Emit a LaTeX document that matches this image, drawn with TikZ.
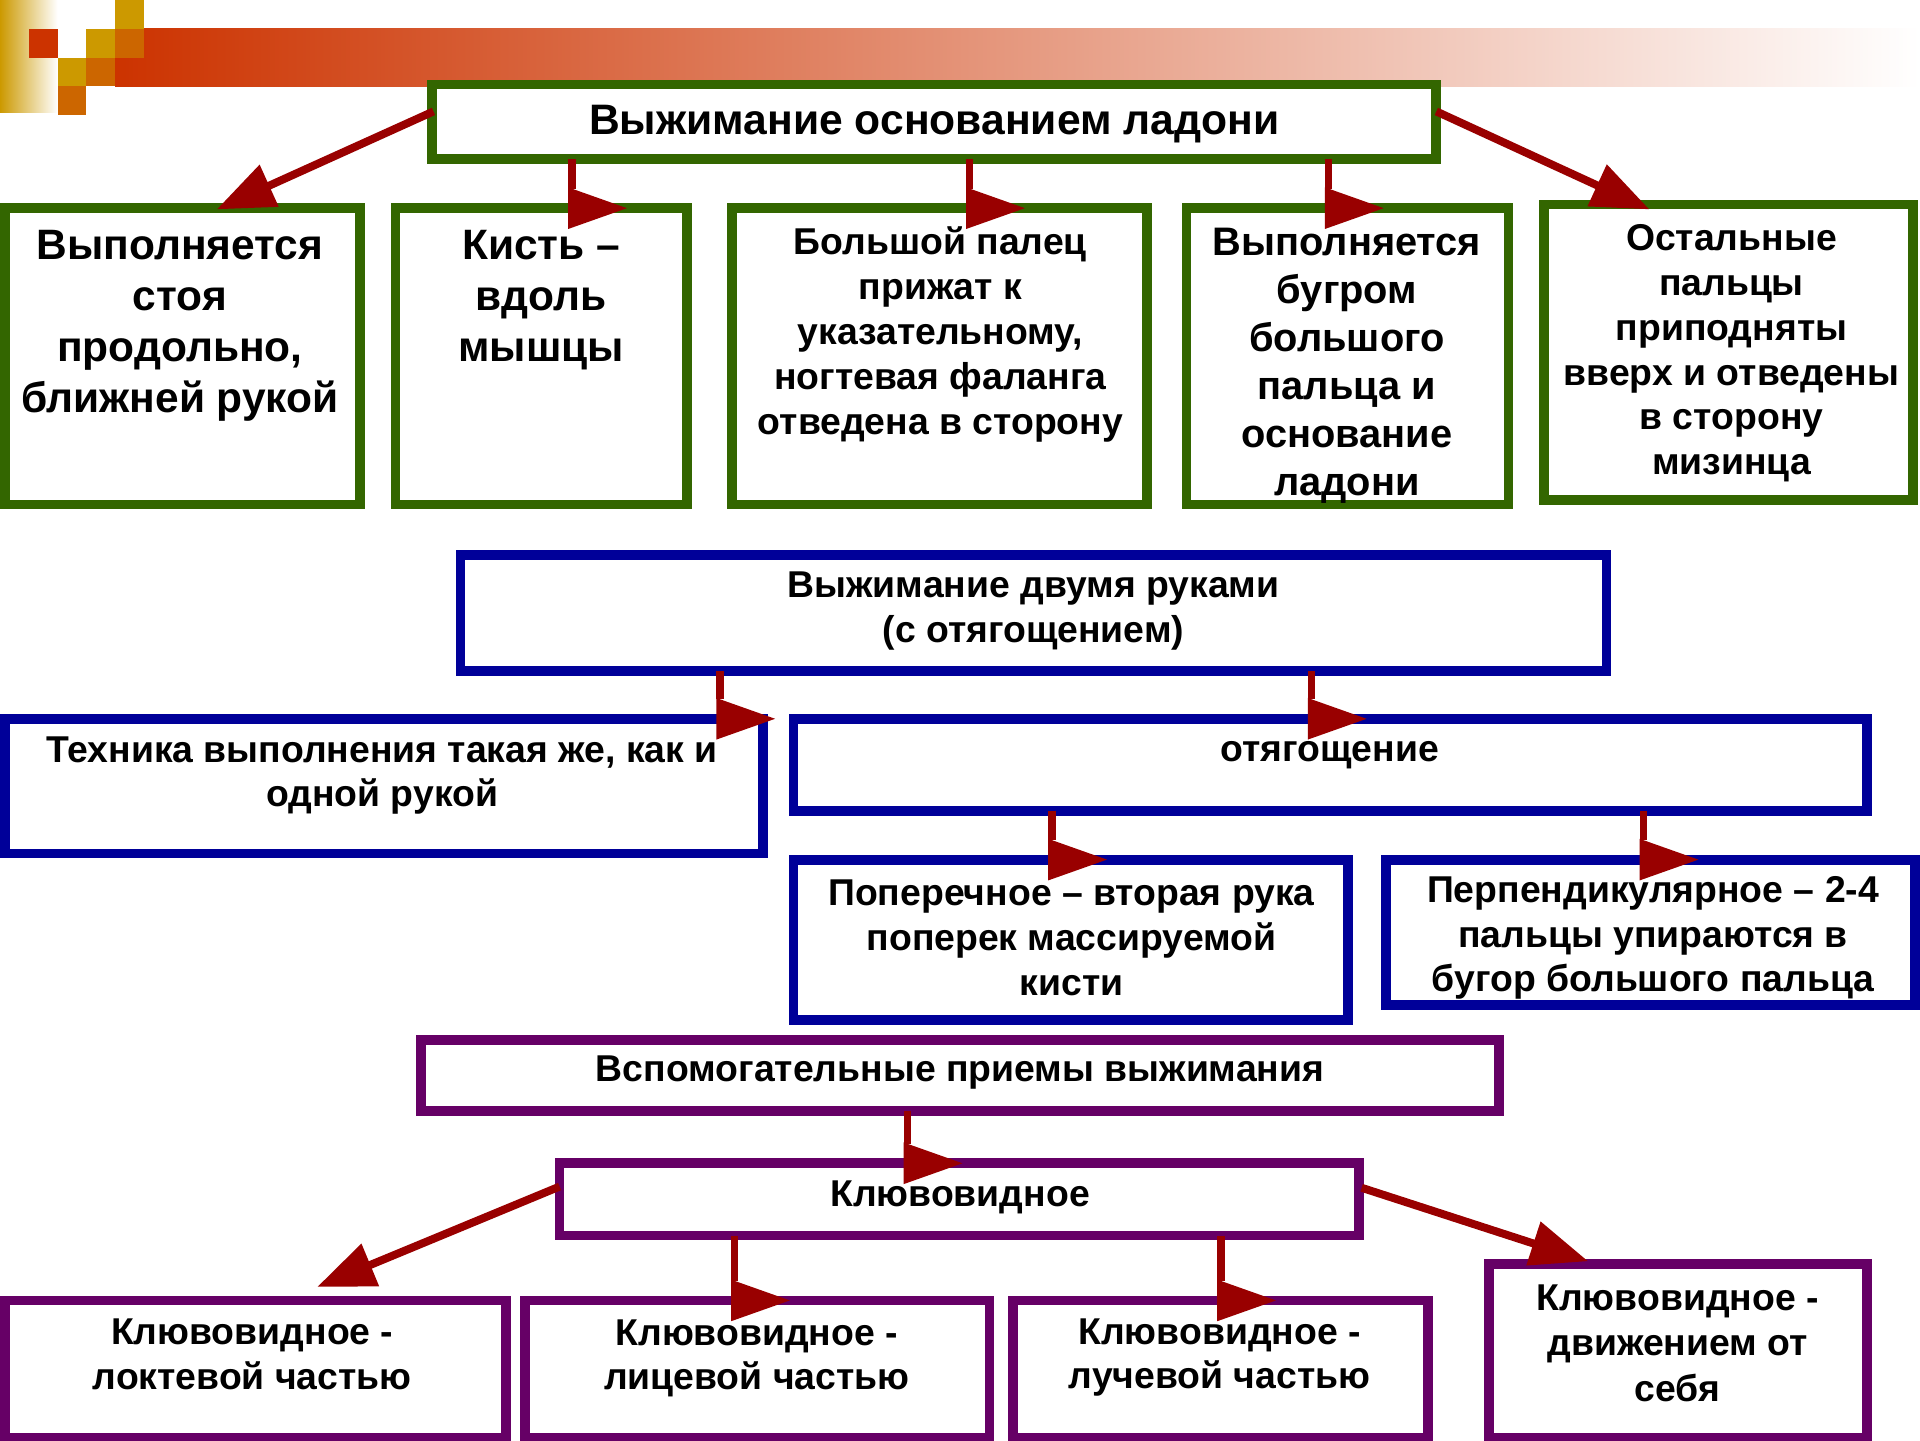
\documentclass[tikz,border=0pt]{standalone}
\usepackage{fontspec}
\setmainfont{Liberation Sans}
\usetikzlibrary{arrows.meta,calc}
\definecolor{grn}{HTML}{336600}
\definecolor{blu}{HTML}{000099}
\definecolor{pur}{HTML}{660066}
\definecolor{arrred}{HTML}{990000}
\definecolor{dred}{HTML}{CC3300}
\definecolor{gold}{HTML}{CC9900}
\definecolor{org}{HTML}{CC6600}
\newcommand\mkbox[6]{\node[#1, anchor=north west, minimum width={#4-#2-8}, minimum height={#5-#3-8}] (#6) at ({#2+4},{#3+4}) {};}
\newcommand\fs[2]{\fontsize{#1}{#2}\selectfont\bfseries}
\newcommand\varr[4]{%
  \draw[stem] (#3,0 |- #1.south) -- ($(#3,0 |- #2.north)+(0,-16)$);
  \fill[arrrred] ($(#3,0 |- #2.north)+(-3,-17)$) -- ++(0,34) -- ++(48,-17) -- cycle;}
\tikzset{
  boxbase/.style={rectangle, draw, line width=8pt, fill=white, inner sep=0pt, outer sep=0pt},
  gbox/.style={boxbase, draw=grn},
  bluebox/.style={boxbase, draw=blu},
  pbox/.style={boxbase, draw=pur},
  lbl/.style={align=center, inner sep=0pt},
  diag/.style={draw=arrred, line width=6.5pt, -{Triangle[length=47pt,width=36pt]}},
  stem/.style={draw=arrred, line width=6pt},
  arrrred/.style={fill=arrred},
}
\begin{document}
\begin{tikzpicture}[x=1pt,y=-1pt]
\useasboundingbox (0,0) rectangle (1568,1176);
% decoration
\shade[left color=dred, right color=white] (94,23.5) rectangle (1568,70.5);
\shade[left color=gold, right color=white] (0,0) rectangle (47,91.5);
\fill[dred] (23.5,23.5) rectangle (47,47);
\fill[gold] (94,0) rectangle (117.5,23.5);
\fill[gold] (70.5,23.5) rectangle (94,47);
\fill[org] (94,23.5) rectangle (117.5,47);
\fill[gold] (47,47) rectangle (70.5,70.5);
\fill[org] (70.5,47) rectangle (94,70.5);
\fill[org] (47,70.5) rectangle (70.5,94);
% boxes
\mkbox{gbox}{349}{65}{1177}{134}{top}
\mkbox{gbox}{0}{166}{298}{416}{g1}
\mkbox{gbox}{319}{166}{565}{416}{g2}
\mkbox{gbox}{594}{166}{941}{416}{g3}
\mkbox{gbox}{965}{166}{1236}{416}{g4}
\mkbox{gbox}{1257}{163}{1566}{412}{g5}
\mkbox{bluebox}{372}{449}{1316}{552}{b0}
\mkbox{bluebox}{0}{583}{627}{701}{b1}
\mkbox{bluebox}{644}{583}{1529}{666}{b2}
\mkbox{bluebox}{644}{698}{1105}{837}{b3}
\mkbox{bluebox}{1128}{698}{1568}{825}{b4}
\mkbox{pbox}{340}{845}{1228}{911}{p0}
\mkbox{pbox}{453}{946}{1114}{1013}{p1}
\mkbox{pbox}{0}{1058}{417}{1178}{l1}
\mkbox{pbox}{425}{1058}{812}{1178}{l2}
\mkbox{pbox}{823}{1058}{1170}{1178}{l3}
\mkbox{pbox}{1212}{1028}{1529}{1178}{l4}
% texts
\node[lbl, font=\fs{34.8}{37}] (t0) at (763,101) {Выжимание основанием ладони};
\node[lbl, font=\fs{34.7}{41.5}] (tg1) at (147,266) {Выполняется\\стоя\\продольно,\\ближней рукой};
\node[lbl, font=\fs{34.7}{41.5}] (tg2) at (442,245) {Кисть –\\вдоль\\мышцы};
\node[lbl, font=\fs{30.5}{36.8}] (tg3) at (768,273) {Большой палец\\прижат к\\указательному,\\ногтевая фаланга\\отведена в сторону};
\node[lbl, font=\fs{32.5}{39.2}] (tg4) at (1100,299) {Выполняется\\бугром\\большого\\пальца и\\основание\\ладони};
\node[lbl, font=\fs{30.5}{36.6}] (tg5) at (1414,288.5) {Остальные\\пальцы\\приподняты\\вверх и отведены\\в сторону\\мизинца};
\node[lbl, font=\fs{30.5}{36}] (tb0) at (844,499) {Выжимание двумя руками\\(с отягощением)};
\node[lbl, font=\fs{30.5}{36}] (tb1) at (312,633) {Техника выполнения такая же, как и\\одной рукой};
\node[lbl, font=\fs{30.5}{36}] (tb2) at (1086,617) {отягощение};
\node[lbl, font=\fs{30.5}{36.5}] (tb3) at (875,766) {Поперечное – вторая рука\\поперек массируемой\\кисти};
\node[lbl, font=\fs{30.5}{36.5}] (tb4) at (1350,766) {Перпендикулярное – 2-4\\пальцы упираются в\\бугор большого пальца};
\node[lbl, font=\fs{30.5}{36}] (tp0) at (784,876) {Вспомогательные приемы выжимания};
\node[lbl, font=\fs{30.5}{36}] (tp1) at (784,978) {Клювовидное};
\node[lbl, font=\fs{30.5}{36}] (tl1) at (206,1106) {Клювовидное -\\локтевой частью};
\node[lbl, font=\fs{30.5}{36}] (tl2) at (618,1109) {Клювовидное -\\лицевой частью};
\node[lbl, font=\fs{30.5}{36}] (tl3) at (996,1109) {Клювовидное -\\лучевой частью};
\node[lbl, font=\fs{30.5}{37}] (tl4) at (1370,1097) {Клювовидное -\\движением от\\себя};
% arrows
\draw[diag] ($(top.west)+(1,-8.5)$) -- ($(g1.north)+(28,1)$);
\draw[diag] ($(top.east)+(0,-8.5)$) -- ($(g5.north)+(-64.5,4)$);
\varr{top}{g2}{467}{}
\varr{top}{g3}{792}{}
\varr{top}{g4}{1085}{}
\varr{b0}{b1}{588}{}
\varr{b0}{b2}{1071}{}
\varr{b2}{b3}{859}{}
\varr{b2}{b4}{1342}{}
\varr{p0}{p1}{741}{}
\varr{p1}{l2}{600}{}
\varr{p1}{l3}{997}{}
\draw[diag] ($(p1.west)+(0,-10.5)$) -- ($(l1.north)+(50.5,-11)$);
\draw[diag] ($(p1.east)+(2,-9.5)$) -- ($(l4.north)+(-73.5,-2)$);
\end{tikzpicture}
\end{document}
